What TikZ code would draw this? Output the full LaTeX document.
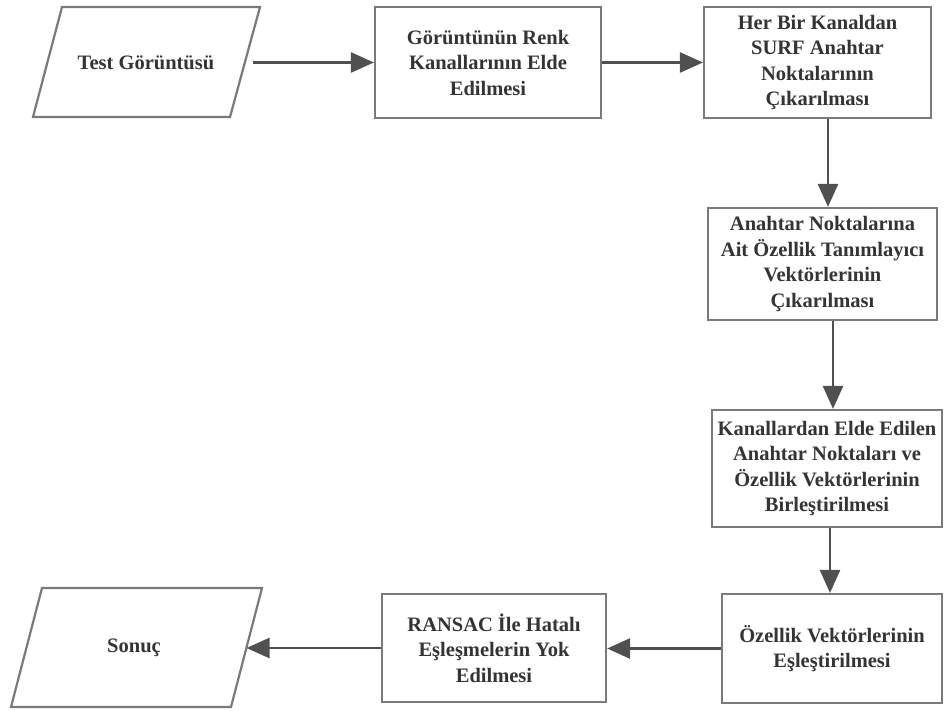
\documentclass[tikz,border=0pt]{standalone}
\usepackage{fontspec}
\setmainfont{Liberation Serif}
\usetikzlibrary{arrows.meta}
\definecolor{boxgray}{RGB}{122,122,122}
\definecolor{arrowgray}{RGB}{80,80,80}
\definecolor{textgray}{RGB}{52,52,52}
\tikzset{
  box/.style={draw=boxgray, line width=2.2pt, fill=white, rectangle, inner sep=0pt,
    align=center, text=textgray, font=\bfseries\fontsize{20.5}{25.5}\selectfont},
  plainlabel/.style={inner sep=0pt, align=center, text=textgray,
    font=\bfseries\fontsize{20.5}{25.5}\selectfont},
  pshape/.style={draw=boxgray, line width=2.2pt, line join=miter},
  arr/.style={draw=arrowgray, line width=2.6pt,
    -{Triangle[length=23pt,width=20pt]}}
}
\begin{document}
\begin{tikzpicture}[x=1pt,y=-1pt]
\useasboundingbox[fill=white] (0,0) rectangle (944,711);

% input parallelogram
\draw[pshape] (62,7) -- (260,7) -- (230,117) -- (33,117) -- cycle;
\node[plainlabel] (p1) at (146,62.5) {Test Görüntüsü};
\coordinate (p1out) at (253,62.5);

% process boxes
\node[box, minimum width=226pt, minimum height=111pt] (b2) at (488,62.5)
  {Görüntünün Renk\\Kanallarının Elde\\Edilmesi};
\node[box, minimum width=227pt, minimum height=111pt] (b3) at (817.5,62.5)
  {Her Bir Kanaldan\\SURF Anahtar\\Noktalarının\\Çıkarılması};
\node[box, minimum width=229pt, minimum height=112pt] (b4) at (822.5,264)
  {Anahtar Noktalarına\\Ait Özellik Tanımlayıcı\\Vektörlerinin\\Çıkarılması};
\node[box, minimum width=230pt, minimum height=117pt] (b5) at (827,468.5)
  {Kanallardan Elde Edilen\\Anahtar Noktaları ve\\Özellik Vektörlerinin\\Birleştirilmesi};
\node[box, minimum width=220pt, minimum height=109pt] (b6) at (832,648.5)
  {Özellik Vektörlerinin\\Eşleştirilmesi};
\node[box, minimum width=224pt, minimum height=108pt] (b7) at (494,648)
  {RANSAC İle Hatalı\\Eşleşmelerin Yok\\Edilmesi};

% output parallelogram
\draw[pshape] (42,588) -- (262,588) -- (231,707) -- (11,707) -- cycle;
\node[plainlabel] (p8) at (134,648) {Sonuç};
\coordinate (p8in) at (246.5,648);

% connectors
\draw[arr] (p1out) -- (b2.west);
\draw[arr] (b2.east) -- (b3.west);
\draw[arr] ([xshift=10.5pt]b3.south) -- ([xshift=10.5pt]b3.south |- b4.north);
\draw[arr] ([xshift=10.5pt]b4.south) -- ([xshift=10.5pt]b4.south |- b5.north);
\draw[arr] ([xshift=3pt]b5.south) -- ([xshift=3pt]b5.south |- b6.north);
\draw[arr] (b6.west) -- (b6.west -| b7.east);
\draw[arr] (b7.west) -- (p8in);
\end{tikzpicture}
\end{document}
